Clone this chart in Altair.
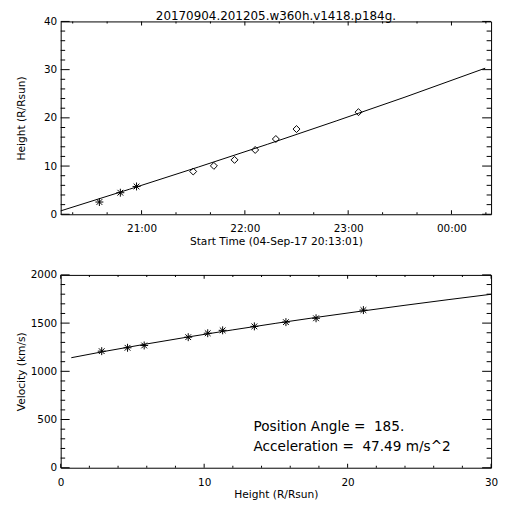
import altair as alt
import pandas as pd

FONT = "DejaVu Sans"

title_text = "20170904.201205.w360h.v1418.p184g."
x_title_top = "Start Time (04-Sep-17 20:13:01)"
y_title_top = "Height (R/Rsun)"
x_title_bot = "Height (R/Rsun)"
y_title_bot = "Velocity (km/s)"

# Height-time points (C2 = asterisks, C3 = diamonds)
c2_times = ["2017-09-04T20:35:30", "2017-09-04T20:47:40", "2017-09-04T20:57:05"]
c2_heights = [2.54, 4.47, 5.77]
c3_times = ["2017-09-04T21:30:00", "2017-09-04T21:42:00", "2017-09-04T21:54:00",
            "2017-09-04T22:06:00", "2017-09-04T22:18:00", "2017-09-04T22:30:00",
            "2017-09-04T23:06:00"]
c3_heights = [8.87, 10.04, 11.28, 13.34, 15.61, 17.67, 21.18]

# Fitted height-time curve
fit_times = ["2017-09-04T20:13:01", "2017-09-04T20:53:01", "2017-09-04T21:33:01",
             "2017-09-04T22:13:01", "2017-09-04T22:53:01", "2017-09-04T23:33:01",
             "2017-09-05T00:19:37"]
fit_heights = [0.7, 5.2, 9.8, 14.5, 19.35, 24.3, 30.3]

# Velocity-height points
vel_heights = [2.86, 4.66, 5.82, 8.89, 10.25, 11.29, 13.5, 15.7, 17.8, 21.1]
vel_values = [1209, 1244, 1268, 1354, 1395, 1425, 1466, 1510, 1550, 1635]

# Fitted velocity-height curve
vfit_heights = [0.74, 3, 6, 9, 12, 15, 18, 21, 24, 27, 30]
vfit_values = [1141, 1205, 1284, 1359, 1430, 1498, 1563, 1625, 1685, 1743, 1799]

annotation_lines = ["Position Angle = \u00a0185.", "Acceleration = \u00a047.49 m/s^2"]

# Tick values
time_major = ["2017-09-04T21:00:00", "2017-09-04T22:00:00", "2017-09-04T23:00:00",
              "2017-09-05T00:00:00"]
time_minor = ["2017-09-04T20:20:00", "2017-09-04T20:40:00", "2017-09-04T21:20:00",
              "2017-09-04T21:40:00", "2017-09-04T22:20:00", "2017-09-04T22:40:00",
              "2017-09-04T23:20:00", "2017-09-04T23:40:00", "2017-09-05T00:20:00"]
hgt_major = [0, 10, 20, 30, 40]
hgt_minor = [2, 4, 6, 8, 12, 14, 16, 18, 22, 24, 26, 28, 32, 34, 36, 38]
hx_major = [0, 10, 20, 30]
hx_minor = [2, 4, 6, 8, 12, 14, 16, 18, 22, 24, 26, 28]
vel_major = [0, 500, 1000, 1500, 2000]
vel_minor = [100, 200, 300, 400, 600, 700, 800, 900, 1100, 1200, 1300, 1400,
             1600, 1700, 1800, 1900]


def dt(day, h, m, s=0):
    return alt.DateTime(year=2017, month=9, date=day, hours=h, minutes=m, seconds=s)


time_domain = [dt(4, 20, 13, 1), dt(5, 0, 23, 1)]
time_label_values = [dt(4, 21, 0), dt(4, 22, 0), dt(4, 23, 0), dt(5, 0, 0)]

W, H = 433, 194
XT_MAJ, XT_MIN = 4, 2
YT_MAJ, YT_MIN = 9, 4.5

ASTERISK = "M-1,0L1,0M0,-1L0,1M-0.72,-0.72L0.72,0.72M-0.72,0.72L0.72,-0.72"


def label_axis(orient, values, fmt, title, **extra):
    kw = dict(orient=orient, values=values, format=fmt, domain=False, grid=False,
              ticks=False, labels=True, labelFont=FONT, labelFontSize=10.5,
              labelColor="black", title=title, titleFont=FONT, titleFontSize=10.7,
              titleFontWeight="normal", titleColor="black", titleBaseline="middle")
    kw.update(extra)
    return alt.Axis(**kw)


def x_ticks(values, field_type, scale, size, side):
    df = pd.DataFrame({"v": values})
    yv = H - size / 2 if side == "bottom" else size / 2
    return alt.Chart(df).mark_tick(color="black", size=size, thickness=1,
                                   opacity=1).encode(
        x=alt.X("v:" + field_type, scale=scale, axis=None),
        y=alt.value(yv),
    )


def y_ticks(values, scale, size, side):
    df = pd.DataFrame({"v": values})
    xv = size / 2 if side == "left" else W - size / 2
    return alt.Chart(df).mark_tick(color="black", size=size, thickness=1,
                                   opacity=1).encode(
        y=alt.Y("v:Q", scale=scale, axis=None),
        x=alt.value(xv),
    )


# ---------------- top panel ----------------
fit_df = pd.DataFrame({"time": fit_times, "height": fit_heights})
c2_df = pd.DataFrame({"time": c2_times, "height": c2_heights})
c3_df = pd.DataFrame({"time": c3_times, "height": c3_heights})

xs_top = alt.Scale(domain=time_domain, nice=False)
ys_top = alt.Scale(domain=[0, 40], nice=False, zero=False)

t_line = alt.Chart(fit_df).mark_line(color="black", strokeWidth=1).encode(
    x=alt.X("time:T", scale=xs_top,
            axis=label_axis("bottom", time_label_values, "%H:%M", x_title_top,
                            labelPadding=9.5, labelFlush=False,
                            titleX=W / 2, titleY=27)),
    y=alt.Y("height:Q", scale=ys_top,
            axis=label_axis("left", hgt_major, "d", y_title_top,
                            labelPadding=4, titleX=-39, titleY=H / 2)),
)
t_c2 = alt.Chart(c2_df).mark_point(shape=ASTERISK, filled=False, size=64,
                                   color="black", strokeWidth=1, opacity=1).encode(
    x=alt.X("time:T", scale=xs_top, axis=None),
    y=alt.Y("height:Q", scale=ys_top, axis=None),
)
t_c3 = alt.Chart(c3_df).mark_point(shape="diamond", filled=False, size=49,
                                   color="black", strokeWidth=1, opacity=1).encode(
    x=alt.X("time:T", scale=xs_top, axis=None),
    y=alt.Y("height:Q", scale=ys_top, axis=None),
)
t_title = alt.Chart(pd.DataFrame({"label": [title_text]})).mark_text(
    align="center", baseline="alphabetic", font=FONT, fontSize=12, color="black"
).encode(x=alt.value(W / 2), y=alt.value(-1.5), text="label:N")

top = alt.layer(
    t_line, t_c2, t_c3,
    x_ticks(time_major, "T", xs_top, XT_MAJ, "bottom"),
    x_ticks(time_major, "T", xs_top, XT_MAJ, "top"),
    x_ticks(time_minor, "T", xs_top, XT_MIN, "bottom"),
    x_ticks(time_minor, "T", xs_top, XT_MIN, "top"),
    y_ticks(hgt_major, ys_top, YT_MAJ, "left"),
    y_ticks(hgt_major, ys_top, YT_MAJ, "right"),
    y_ticks(hgt_minor, ys_top, YT_MIN, "left"),
    y_ticks(hgt_minor, ys_top, YT_MIN, "right"),
    t_title,
).resolve_axis(x="independent", y="independent").properties(width=W, height=H)

# ---------------- bottom panel ----------------
vfit_df = pd.DataFrame({"h": vfit_heights, "v": vfit_values})
vel_df = pd.DataFrame({"h": vel_heights, "v": vel_values})

xs_bot = alt.Scale(domain=[0, 30], nice=False, zero=False)
ys_bot = alt.Scale(domain=[0, 2000], nice=False, zero=False)

b_line = alt.Chart(vfit_df).mark_line(color="black", strokeWidth=1).encode(
    x=alt.X("h:Q", scale=xs_bot,
            axis=label_axis("bottom", hx_major, "d", x_title_bot,
                            labelPadding=9.5, labelFlush=False,
                            titleX=W / 2, titleY=27)),
    y=alt.Y("v:Q", scale=ys_bot,
            axis=label_axis("left", vel_major, "d", y_title_bot,
                            labelPadding=4, titleX=-39, titleY=H / 2)),
)
b_pts = alt.Chart(vel_df).mark_point(shape=ASTERISK, filled=False, size=64,
                                     color="black", strokeWidth=1, opacity=1).encode(
    x=alt.X("h:Q", scale=xs_bot, axis=None),
    y=alt.Y("v:Q", scale=ys_bot, axis=None),
)
ann1 = alt.Chart(pd.DataFrame({"label": [annotation_lines[0]]})).mark_text(
    align="left", baseline="middle", font=FONT, fontSize=13.7, color="black"
).encode(x=alt.value(194), y=alt.value(153), text="label:N")
ann2 = alt.Chart(pd.DataFrame({"label": [annotation_lines[1]]})).mark_text(
    align="left", baseline="middle", font=FONT, fontSize=13.7, color="black"
).encode(x=alt.value(194), y=alt.value(173), text="label:N")

bottom = alt.layer(
    b_line, b_pts,
    x_ticks(hx_major, "Q", xs_bot, XT_MAJ, "bottom"),
    x_ticks(hx_major, "Q", xs_bot, XT_MAJ, "top"),
    x_ticks(hx_minor, "Q", xs_bot, XT_MIN, "bottom"),
    x_ticks(hx_minor, "Q", xs_bot, XT_MIN, "top"),
    y_ticks(vel_major, ys_bot, YT_MAJ, "left"),
    y_ticks(vel_major, ys_bot, YT_MAJ, "right"),
    y_ticks(vel_minor, ys_bot, YT_MIN, "left"),
    y_ticks(vel_minor, ys_bot, YT_MIN, "right"),
    ann1, ann2,
).resolve_axis(x="independent", y="independent").properties(width=W, height=H)

chart = alt.vconcat(top, bottom, spacing=61, bounds="flush").properties(
    padding={"left": 7, "top": 0, "right": 5, "bottom": 5},
    background="white",
).configure_view(stroke="black", strokeWidth=1)

chart.save("out.html", embed_options={"renderer": "svg", "actions": False})
